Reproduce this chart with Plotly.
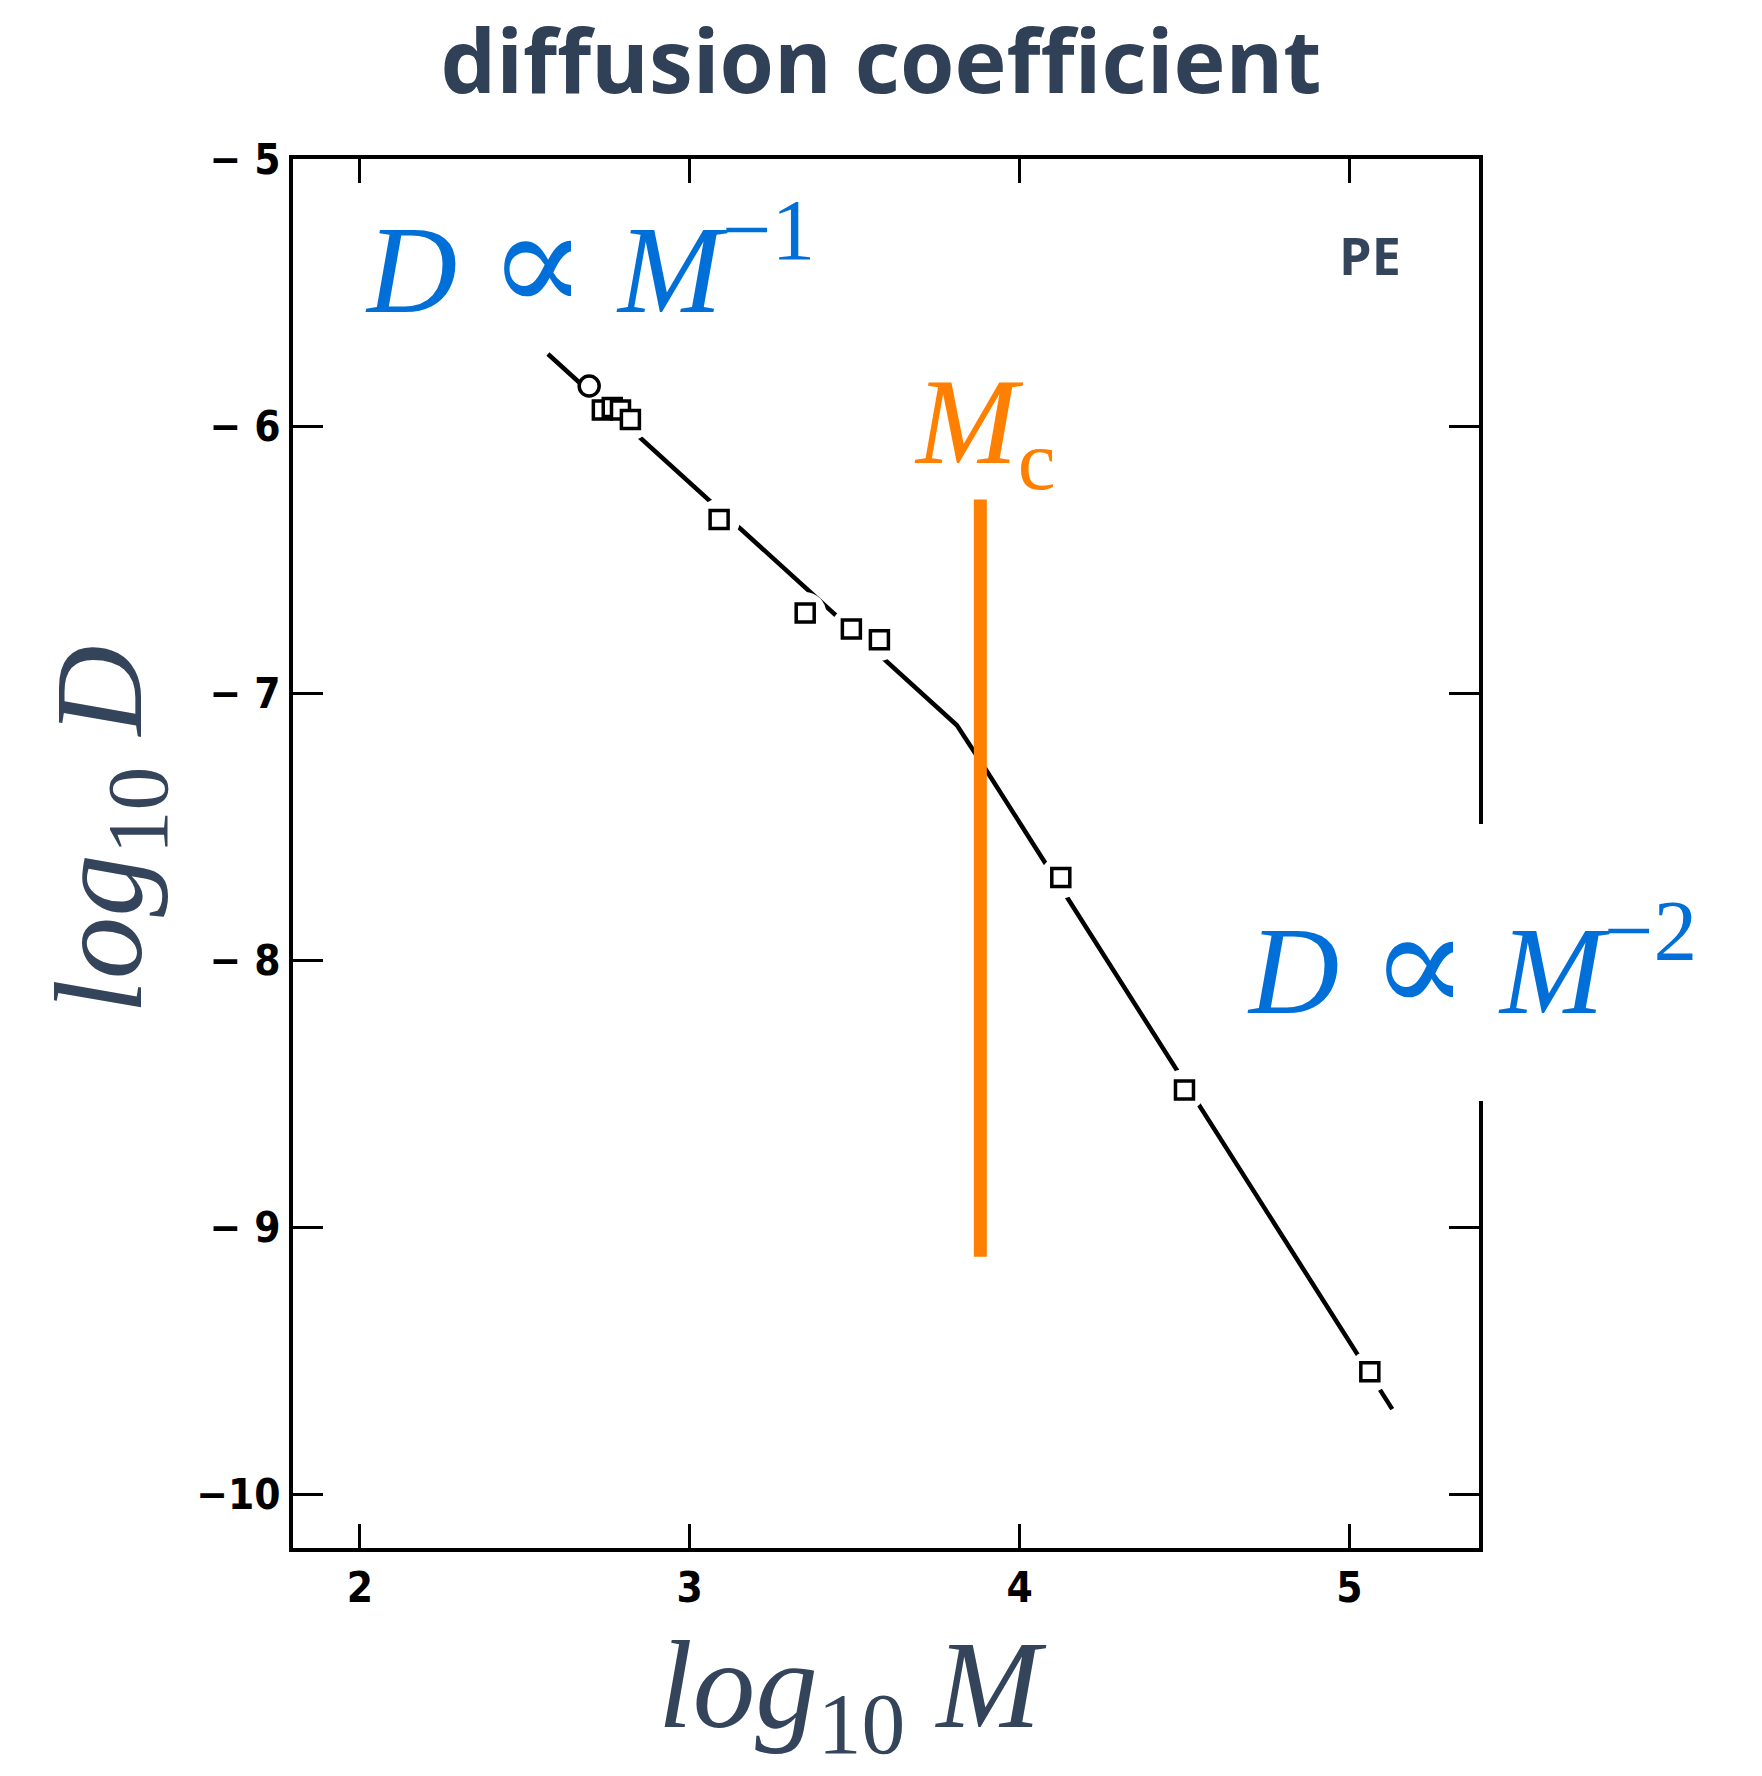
import plotly.graph_objects as go

# ---- data ----
circle_log_m = [2.695]
circle_log_d = [-5.85]
square_log_m = [2.735, 2.765, 2.79, 2.82, 3.089, 3.35, 3.49, 3.575, 4.125, 4.50, 5.062]
square_log_d = [-5.94, -5.93, -5.94, -5.975, -6.35, -6.70, -6.76, -6.80, -7.69, -8.485, -9.54]
fit_log_m = [2.57, 3.81, 3.855, 3.90, 5.13]
fit_log_d = [-5.73, -7.12, -7.205, -7.29, -9.68]
mc_log_m = [3.881, 3.881]
mc_log_d = [-6.275, -9.11]
x_tick_vals = [2, 3, 4, 5]
x_tick_text = ["2", "3", "4", "5"]
y_tick_vals = [-5, -6, -7, -8, -9, -10]
y_tick_text = ["− 5", "− 6", "− 7", "− 8", "− 9", "−10"]

W, H = 1762, 1776
L, R, T, B = 293, 283, 159, 228
PW, PH = W - L - R, H - T - B


def px(x):
    return (x - L) / PW


def py(y):
    return (H - B - y) / PH


SLATE = "#33445B"
BLUE = "#006FD8"
ORANGE = "#FF8000"

fig = go.Figure()
fig.add_trace(go.Scatter(x=fit_log_m, y=fit_log_d, mode="lines",
                         line=dict(color="black", width=4.5), hoverinfo="skip"))
# white halos that open gaps in the line around the square markers
fig.add_trace(go.Scatter(x=square_log_m, y=square_log_d, mode="markers",
                         marker=dict(symbol="circle", size=42, color="white", line=dict(width=0)),
                         hoverinfo="skip"))
fig.add_trace(go.Scatter(x=circle_log_m, y=circle_log_d, mode="markers",
                         marker=dict(symbol="circle", size=20, color="white",
                                     line=dict(color="black", width=3.5))))
fig.add_trace(go.Scatter(x=square_log_m, y=square_log_d, mode="markers",
                         marker=dict(symbol="square", size=18, color="white",
                                     line=dict(color="black", width=3.5))))
fig.add_trace(go.Scatter(x=mc_log_m, y=mc_log_d, mode="lines",
                         line=dict(color=ORANGE, width=13), hoverinfo="skip"))

tick_font = dict(family="DejaVu Sans Condensed, Liberation Sans Narrow, Liberation Sans",
                 size=42, color="black", weight="bold")

fig.update_xaxes(range=[1.797, 5.393], tickvals=x_tick_vals, ticktext=x_tick_text,
                 ticks="inside", ticklen=24, tickwidth=3, tickcolor="black",
                 showline=True, linewidth=4, linecolor="black", mirror="ticks",
                 showgrid=False, zeroline=False, tickfont=tick_font)
fig.update_yaxes(range=[-10.2, -5.0], tickvals=y_tick_vals, ticktext=y_tick_text,
                 ticks="inside", ticklen=30, tickwidth=3, tickcolor="black",
                 showline=True, linewidth=4, linecolor="black", mirror="ticks",
                 showgrid=False, zeroline=False, tickfont=tick_font)

serif = "Liberation Serif, Times New Roman, DejaVu Serif"
prop = "<span style='font-size:145px'>∝</span>"

annotations = [
    dict(text="<i>log</i><sub>10</sub> <i>M</i>", x=px(852), y=py(1694),
         font=dict(family=serif, size=125, color=SLATE)),
    dict(text="<i>log</i><sub>10</sub> <i>D</i>", x=px(108), y=py(830), textangle=-90,
         font=dict(family=serif, size=125, color=SLATE)),
    dict(text="<i>D</i> " + prop + " <i>M</i><sup>−1</sup>", x=px(363), y=py(262), xanchor="left",
         font=dict(family=serif, size=125, color=BLUE)),
    dict(text="<i>D</i> " + prop + " <i>M</i><sup>−2</sup>", x=px(1245), y=py(963), xanchor="left",
         font=dict(family=serif, size=125, color=BLUE)),
    dict(text="<i>M</i><sub>c</sub>", x=px(912), y=py(431), xanchor="left",
         font=dict(family=serif, size=122, color=ORANGE)),
    dict(text="<b>PE</b>", x=px(1370), y=py(254),
         font=dict(family="Open Sans", size=52, color=SLATE)),
]
for a in annotations:
    a.update(xref="paper", yref="paper", showarrow=False)
    a.setdefault("xanchor", "center")
    a.setdefault("yanchor", "middle")

fig.update_layout(
    width=W, height=H,
    margin=dict(l=L, r=R, t=T, b=B, pad=0),
    paper_bgcolor="white", plot_bgcolor="white",
    showlegend=False,
    title=dict(text="diffusion coefficient", x=0.5, xanchor="center",
               y=1 - 62 / H, yanchor="middle", yref="container",
               font=dict(family="Open Sans", size=88, color="#2F4057", weight="bold")),
    annotations=annotations,
    shapes=[dict(type="rect", xref="paper", yref="paper", layer="above",
                 x0=px(1440), x1=px(1492), y0=py(1101), y1=py(824),
                 fillcolor="white", line=dict(width=0))],
)

fig.write_html("out.html", config={"displayModeBar": False},
               post_script="document.body.style.margin='0px';")
